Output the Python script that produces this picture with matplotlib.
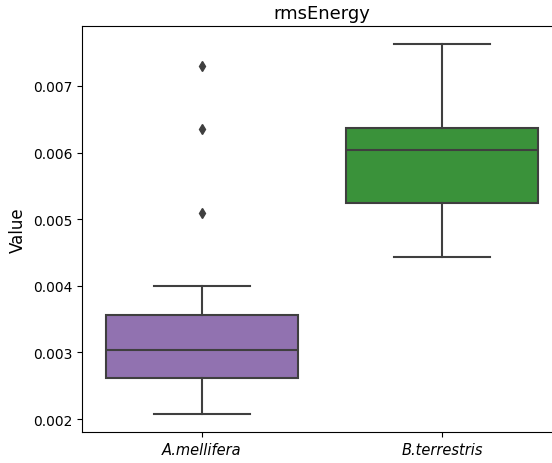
import matplotlib.pyplot as plt

# box summary per species
species = ["A.mellifera", "B.terrestris"]
q1 = [0.002616, 0.005243]
medians = [0.003036, 0.006039]
q3 = [0.003561, 0.006369]
whis_lo = [0.002075, 0.004432]
whis_hi = [0.003997, 0.007630]
outliers = [[0.005093, 0.006354, 0.007300], []]

colors = ["#9172b0", "#3a923a"]
line_col = "#3f3f3f"

stats = []
for i, name in enumerate(species):
    stats.append({
        "label": name,
        "q1": q1[i], "med": medians[i], "q3": q3[i],
        "whislo": whis_lo[i], "whishi": whis_hi[i],
        "fliers": outliers[i],
    })

fig = plt.figure(figsize=(5.52, 4.64), dpi=100)
ax = fig.add_axes([82 / 552, 1 - 433 / 464, 480 / 552, 406 / 464])

bp = ax.bxp(stats, positions=[0, 1], widths=0.8, patch_artist=True,
            boxprops=dict(edgecolor=line_col, linewidth=1.5),
            medianprops=dict(color=line_col, linewidth=1.5),
            whiskerprops=dict(color=line_col, linewidth=1.5),
            capprops=dict(color=line_col, linewidth=1.5),
            flierprops=dict(marker="d", markerfacecolor=line_col,
                            markeredgecolor=line_col, markersize=5))
for patch, c in zip(bp["boxes"], colors):
    patch.set_facecolor(c)

ax.set_xlim(-0.5, 1.5)
ax.set_ylim(0.001805, 0.0079)
ax.set_yticks([0.002, 0.003, 0.004, 0.005, 0.006, 0.007])
ax.set_xticks([0, 1])
ax.tick_params(labelsize=10)
ax.set_xticklabels(species, fontstyle="italic", fontsize=10.5)
ax.set_ylabel("Value", fontsize=12)
ax.set_title("rmsEnergy", fontsize=13)
ax.spines["right"].set_visible(False)

fig.savefig("out.png", dpi=100)
